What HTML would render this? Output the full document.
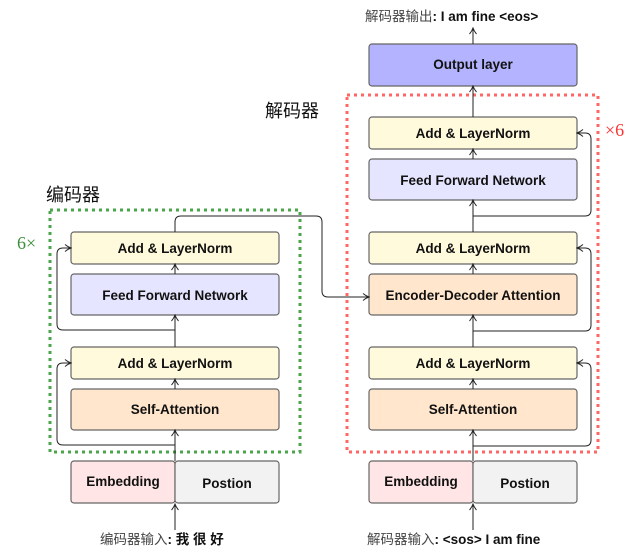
<!DOCTYPE html>
<html><head><meta charset="utf-8"><style>
html,body{margin:0;padding:0;background:#fff;width:630px;height:552px;overflow:hidden}
svg{display:block}
text{font-family:"Liberation Sans","Noto Sans CJK SC",sans-serif;font-weight:bold;fill:#111;font-size:13.5px}
.cjk{font-family:"Noto Sans CJK SC",sans-serif;font-weight:normal}
</style></head><body>
<svg width="630" height="552" viewBox="0 0 630 552" xmlns="http://www.w3.org/2000/svg">
<defs>
<marker id="a" markerWidth="8" markerHeight="8" refX="7" refY="4" orient="auto" markerUnits="userSpaceOnUse">
<path d="M1,0.5 Q4,3 7,4 Q4,5 1,7.5" fill="none" stroke="#222" stroke-width="1"/>
</marker>
</defs>
<g stroke="#666" stroke-width="1.2">
<rect x="71" y="232" width="208" height="32" rx="3" fill="#fffadc"/>
<rect x="71" y="274" width="208" height="41" rx="3" fill="#e5e5ff"/>
<rect x="71" y="347" width="208" height="32" rx="3" fill="#fffadc"/>
<rect x="71" y="389" width="208" height="41" rx="3" fill="#ffe6cc"/>
<rect x="71" y="461" width="104" height="42" rx="3" fill="#ffe5e5"/>
<rect x="175" y="461" width="104" height="42" rx="3" fill="#f2f2f2"/>
<rect x="369" y="44" width="208" height="42" rx="3" fill="#b3b3ff"/>
<rect x="369" y="117" width="208" height="32" rx="3" fill="#fffadc"/>
<rect x="369" y="159" width="208" height="41" rx="3" fill="#e5e5ff"/>
<rect x="369" y="232" width="208" height="32" rx="3" fill="#fffadc"/>
<rect x="369" y="274" width="208" height="41" rx="3" fill="#ffe6cc"/>
<rect x="369" y="347" width="208" height="32" rx="3" fill="#fffadc"/>
<rect x="369" y="389" width="208" height="41" rx="3" fill="#ffe6cc"/>
<rect x="369" y="461" width="104" height="42" rx="3" fill="#ffe5e5"/>
<rect x="473" y="461" width="104" height="42" rx="3" fill="#f2f2f2"/>
</g>
<rect x="50" y="210" width="250" height="242" fill="none" stroke="#4aa64a" stroke-width="3" stroke-dasharray="3,4"/>
<rect x="347" y="95" width="251" height="357" fill="none" stroke="#ff6666" stroke-width="3" stroke-dasharray="3,4"/>
<g fill="none" stroke="#222" stroke-width="1" marker-end="url(#a)">
<line x1="175" y1="530" x2="175" y2="504"/>
<line x1="175" y1="461" x2="175" y2="430"/>
<line x1="175" y1="389" x2="175" y2="379"/>
<line x1="175" y1="347" x2="175" y2="315"/>
<line x1="175" y1="274" x2="175" y2="264"/>
<path d="M175,445 H63 Q57,445 57,439 V369 Q57,363 63,363 H71"/>
<path d="M175,330 H63 Q57,330 57,324 V254 Q57,248 63,248 H71"/>
<path d="M175,232 V222 Q175,216 181,216 H316 Q322,216 322,222 V291 Q322,297 328,297 H369"/>
<line x1="473" y1="530" x2="473" y2="504"/>
<line x1="473" y1="461" x2="473" y2="430"/>
<line x1="473" y1="389" x2="473" y2="379"/>
<line x1="473" y1="347" x2="473" y2="315"/>
<line x1="473" y1="274" x2="473" y2="264"/>
<line x1="473" y1="232" x2="473" y2="200"/>
<line x1="473" y1="159" x2="473" y2="149"/>
<line x1="473" y1="117" x2="473" y2="86"/>
<line x1="473" y1="44" x2="473" y2="28"/>
<path d="M473,446 H585 Q591,446 591,440 V369 Q591,363 585,363 H577"/>
<path d="M473,331 H585 Q591,331 591,325 V254 Q591,248 585,248 H577"/>
<path d="M473,216 H585 Q591,216 591,210 V139 Q591,133 585,133 H577"/>
</g>
<g text-anchor="middle">
<text x="175" y="253">Add &amp; LayerNorm</text>
<text x="175" y="300">Feed Forward Network</text>
<text x="175" y="368">Add &amp; LayerNorm</text>
<text x="175" y="414">Self-Attention</text>
<text x="123" y="486">Embedding</text>
<text x="227" y="488">Postion</text>
<text x="473" y="69">Output layer</text>
<text x="473" y="138">Add &amp; LayerNorm</text>
<text x="473" y="185">Feed Forward Network</text>
<text x="473" y="253">Add &amp; LayerNorm</text>
<text x="473" y="300">Encoder-Decoder Attention</text>
<text x="473" y="368">Add &amp; LayerNorm</text>
<text x="473" y="414">Self-Attention</text>
<text x="421" y="486">Embedding</text>
<text x="525" y="488">Postion</text>
</g>
<text x="46" y="201" style="font-size:18px" class="cjk">编码器</text>
<text x="265" y="117" style="font-size:18px" class="cjk">解码器</text>
<text x="17" y="249" style="font-size:18px;font-weight:normal;fill:#3c8f3c;font-family:'Liberation Serif',serif">6×</text>
<text x="605" y="136" style="font-size:18px;font-weight:normal;fill:#ff3333;font-family:'Liberation Serif',serif">×6</text>
<text x="100" y="544" style="font-size:13.5px"><tspan class="cjk" style="fill:#444">编码器输入</tspan>: 我 很 好</text>
<text x="367" y="544" style="font-size:13.5px"><tspan class="cjk" style="fill:#444">解码器输入</tspan>: &lt;sos&gt; I am fine</text>
<text x="365" y="21" style="font-size:13.5px"><tspan class="cjk" style="fill:#444">解码器输出</tspan>: I am fine &lt;eos&gt;</text>
</svg>
</body></html>
